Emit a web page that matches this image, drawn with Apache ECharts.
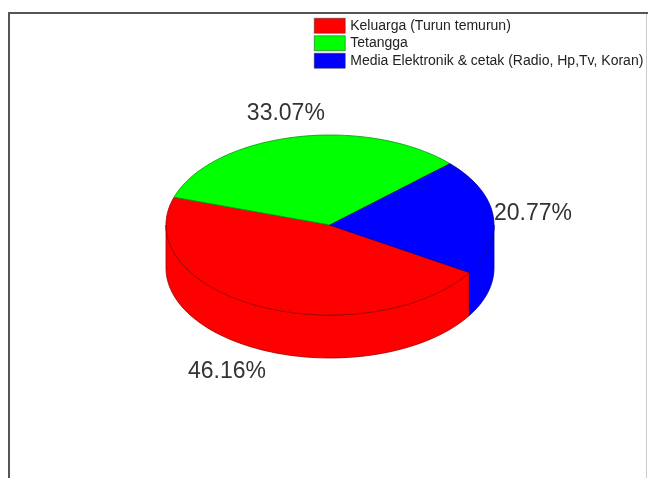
<!DOCTYPE html>
<html><head><meta charset="utf-8">
<script src="https://cdn.jsdelivr.net/npm/echarts@6/dist/echarts.min.js"></script>
<style>html,body{margin:0;padding:0;background:#fff}#c{width:648px;height:478px}</style>
</head><body><div id="c"></div>
<script>
const categories = ['Keluarga (Turun temurun)', 'Tetangga', 'Media Elektronik & cetak (Radio, Hp,Tv, Koran)'];
const values = [46.16, 33.07, 20.77];
const labels = ['46.16%', '33.07%', '20.77%'];
const colors = ['#ff0000', '#00ff00', '#0000ff'];
const edgeColors = ['#9a0000', '#009a00', '#00009a'];

const chart = echarts.init(document.getElementById('c'));
const total = values.reduce((a, b) => a + b, 0);
const CX = 330, CY = 225, RX = 164, RY = 90, DEPTH = 43, START = -31.8;
const rad = d => d * Math.PI / 180;
const pt = (a, dy) => [CX + RX * Math.cos(rad(a)), CY - RY * Math.sin(rad(a)) + (dy || 0)];

function arcPts(a0, a1, dy) {
  const n = Math.max(2, Math.ceil(Math.abs(a0 - a1) / 2));
  const out = [];
  for (let k = 0; k <= n; k++) out.push(pt(a0 + (a1 - a0) * k / n, dy));
  return out;
}

function makeRender(i) {
  return function (params, api) {
    const v = api.value(0);
    let before = 0;
    for (let j = 0; j < i; j++) before += values[j];
    const a0 = START - before / total * 360;
    const a1 = a0 - v / total * 360;
    const children = [];
    // visible walls (front half: angles in [-180,0] mod 360)
    for (let k = -1; k <= 1; k++) {
      const lo = Math.max(a1, -180 + 360 * k), hi = Math.min(a0, 360 * k);
      if (hi > lo) {
        const top = arcPts(hi, lo, 0);
        const bot = arcPts(lo, hi, DEPTH);
        children.push({
          type: 'polygon', shape: { points: top.concat(bot) },
          style: { fill: colors[i], stroke: edgeColors[i], lineWidth: 0.8 }
        });
      }
    }
    // top face
    children.push({
      type: 'polygon', shape: { points: [[CX, CY]].concat(arcPts(a0, a1, 0)) },
      style: { fill: colors[i], stroke: edgeColors[i], lineWidth: 0.8 }
    });
    // label
    const m = (a0 + a1) / 2;
    const s = Math.sin(rad(m)), c = Math.cos(rad(m));
    children.push({
      type: 'text',
      style: {
        x: CX + (RX + 40) * c * (s < 0 ? 1.2 : 1),
        y: CY - (RY + 24) * s + (s < 0 ? DEPTH : 0),
        text: labels[i], fill: '#333', font: '23px Arial, "Liberation Sans", sans-serif',
        align: 'center', verticalAlign: 'middle'
      }
    });
    return { type: 'group', children: children };
  };
}

chart.setOption({
  animation: false,
  backgroundColor: '#fff',
  legend: {
    data: categories, orient: 'vertical', left: 314, top: 18, padding: 0,
    icon: 'rect', itemWidth: 31, itemHeight: 15, itemGap: 2,
    itemStyle: { borderColor: '#333', borderWidth: 0.5 },
    textStyle: { fontSize: 14, color: '#222', fontFamily: 'Arial, "Liberation Sans", sans-serif', lineHeight: 15 },
    selectedMode: false
  },
  graphic: [
    { type: 'line', shape: { x1: 9, y1: 13, x2: 648, y2: 13 }, style: { stroke: '#555', lineWidth: 2 } },
    { type: 'line', shape: { x1: 9, y1: 12, x2: 9, y2: 478 }, style: { stroke: '#555', lineWidth: 2 } },
    { type: 'line', shape: { x1: 646.5, y1: 14, x2: 646.5, y2: 478 }, style: { stroke: '#ccc', lineWidth: 1 } }
  ],
  series: categories.map((name, i) => ({
    type: 'custom', name: name, coordinateSystem: 'none',
    itemStyle: { color: colors[i] },
    renderItem: makeRender(i),
    data: [[values[i]]]
  }))
});
</script></body></html>
